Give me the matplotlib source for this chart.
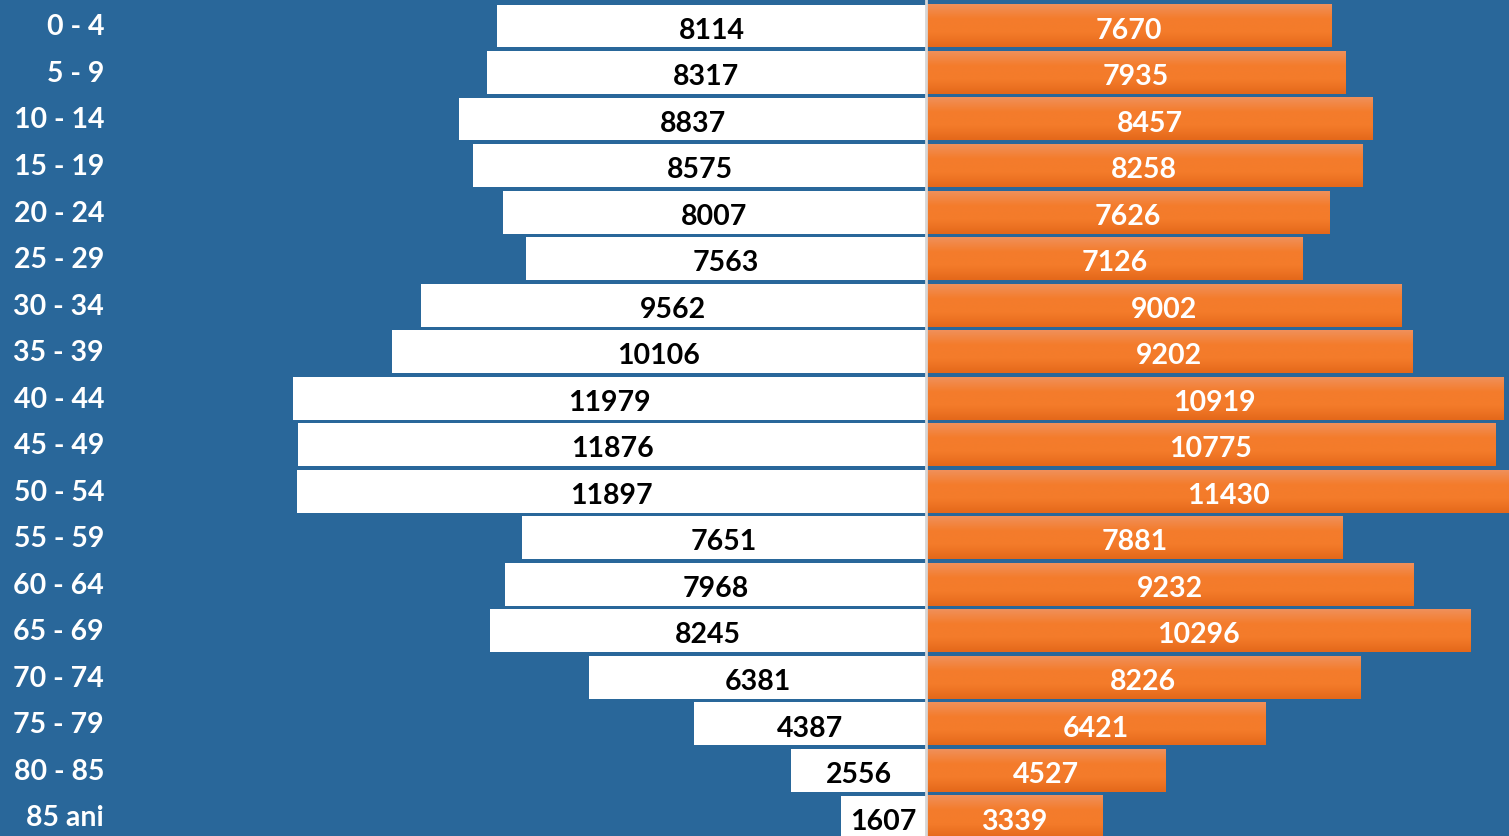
import matplotlib.pyplot as plt
import numpy as np

# data
age_groups = ['0 - 4', '5 - 9', '10 - 14', '15 - 19', '20 - 24', '25 - 29',
              '30 - 34', '35 - 39', '40 - 44', '45 - 49', '50 - 54', '55 - 59',
              '60 - 64', '65 - 69', '70 - 74', '75 - 79', '80 - 85', '85 ani']
men = [8114, 8317, 8837, 8575, 8007, 7563, 9562, 10106, 11979, 11876,
       11897, 7651, 7968, 8245, 6381, 4387, 2556, 1607]
women = [7670, 7935, 8457, 8258, 7626, 7126, 9002, 9202, 10919, 10775,
         11430, 7881, 9232, 10296, 8226, 6421, 4527, 3339]

bg = '#29679A'
font = 'Lato'

fig = plt.figure(figsize=(15.09, 8.36), dpi=100)
fig.patch.set_facecolor(bg)
ax = fig.add_axes([0, 0, 1, 1])
ax.set_facecolor(bg)

y = np.arange(len(age_groups))
left = ax.barh(y, [-v for v in men], height=0.92, color='white', zorder=2)
right = ax.barh(y, women, height=0.92, color='#F47B2A', zorder=2)

# vertical gradient on the orange bars
grad = np.linspace(0, 1, 100).reshape(-1, 1)
cmap = plt.matplotlib.colors.LinearSegmentedColormap.from_list(
    'og', ['#F0905A', '#F47C2C', '#F47B2A', '#E4681A'])
for b in right:
    x0, y0, w, h = b.get_x(), b.get_y(), b.get_width(), b.get_height()
    ax.imshow(grad, cmap=cmap, aspect='auto', extent=(x0, x0 + w, y0 + h, y0),
              zorder=3, interpolation='bilinear')

ax.axvline(0, color='#D6D6D6', lw=2, zorder=4)

# value labels centred in bars
for i, (m, w) in enumerate(zip(men, women)):
    ax.text(-m / 2, i + 0.1, str(m), ha='center', va='center', fontsize=20.5,
            fontweight='bold', color='black', family=font, zorder=5)
    ax.text(w / 2, i + 0.1, str(w), ha='center', va='center', fontsize=20.5,
            fontweight='bold', color='white', family=font, zorder=5)

# age group labels
for i, lab in enumerate(age_groups):
    ax.text(104 / 1509, i + 0.03, lab, transform=ax.get_yaxis_transform(),
            ha='right', va='center', fontsize=20.5, fontweight='bold',
            color='white', family=font)

ax.set_xlim(-17523, 11031)
ax.set_ylim(17.41, -0.56)
ax.axis('off')

fig.savefig('out.png', dpi=100, facecolor=bg)
